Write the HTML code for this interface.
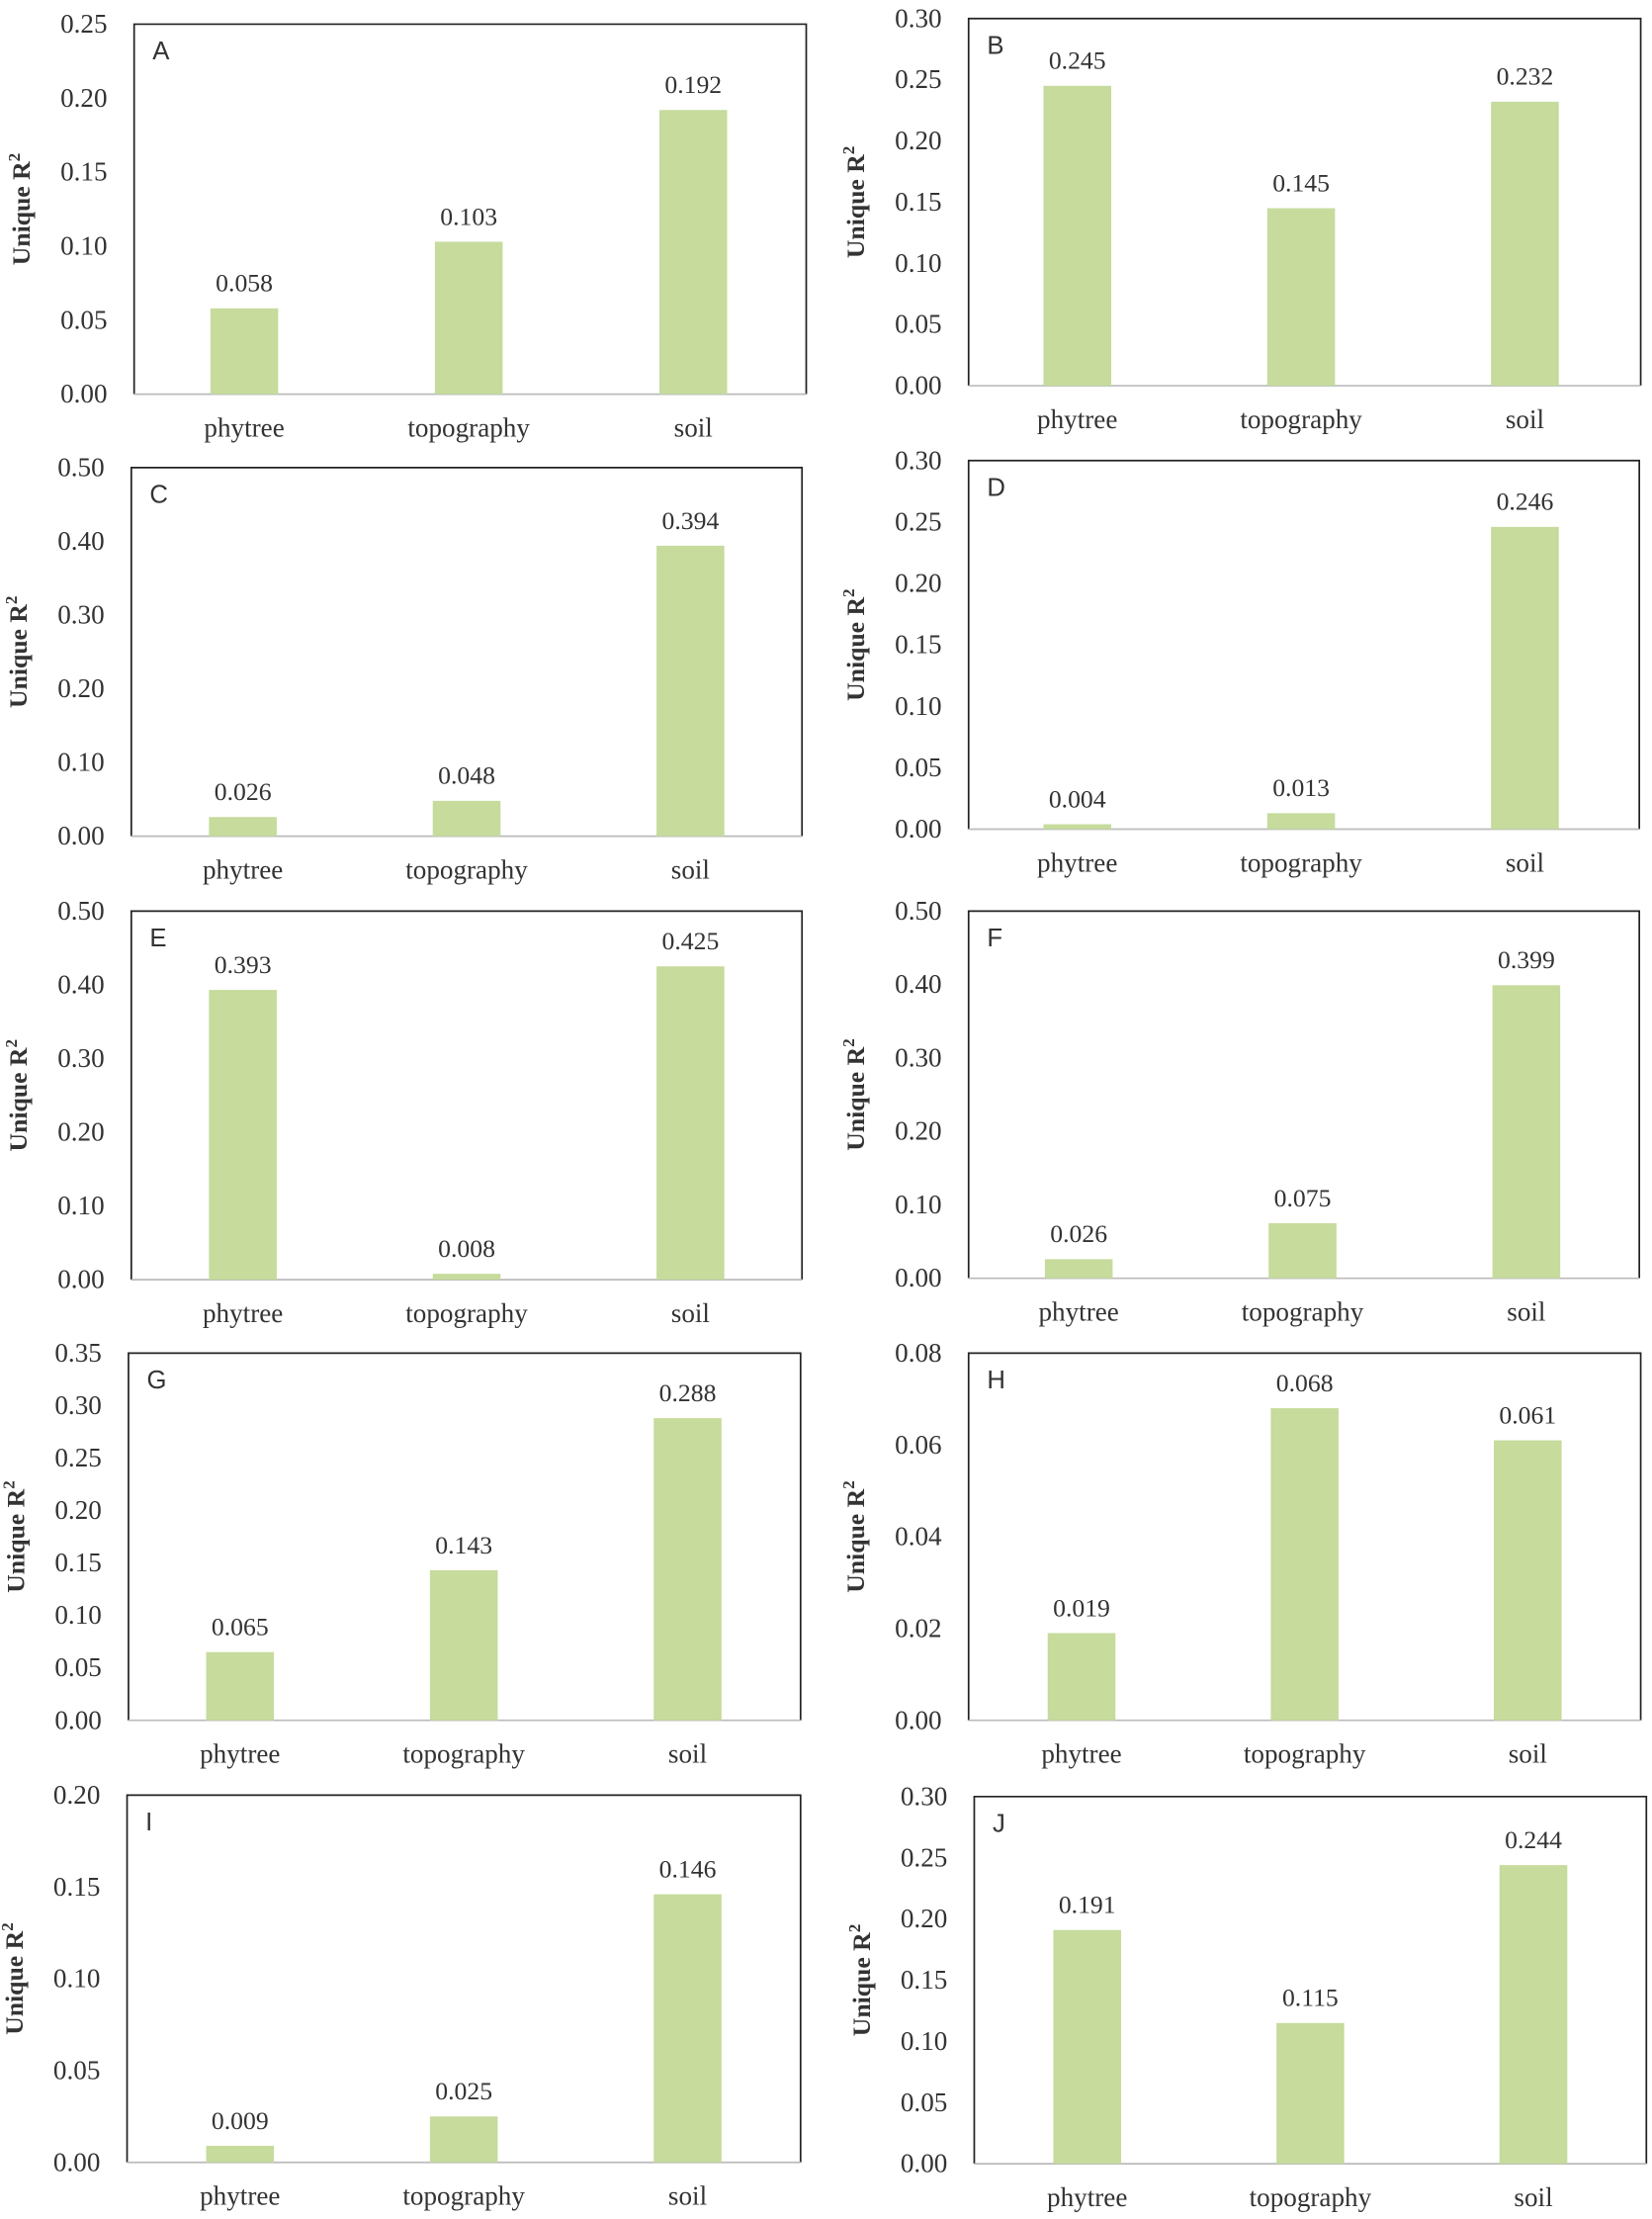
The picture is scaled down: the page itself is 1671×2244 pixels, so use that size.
<!DOCTYPE html>
<html><head><meta charset="utf-8"><style>
html,body{margin:0;padding:0;background:#fff;}
svg{display:block;}
text{font-family:"Liberation Serif",serif;fill:#333;}
</style></head><body>
<svg id="fig" width="1671" height="2244" viewBox="0 0 1170 1571" xmlns="http://www.w3.org/2000/svg"></svg>
<script>
const categories = ["phytree", "topography", "soil"];
const panelLabels = ["A","B","C","D","E","F","G","H","I","J"];
const valuesA = [0.058, 0.103, 0.192];
const valuesB = [0.245, 0.145, 0.232];
const valuesC = [0.026, 0.048, 0.394];
const valuesD = [0.004, 0.013, 0.246];
const valuesE = [0.393, 0.008, 0.425];
const valuesF = [0.026, 0.075, 0.399];
const valuesG = [0.065, 0.143, 0.288];
const valuesH = [0.019, 0.068, 0.061];
const valuesI = [0.009, 0.025, 0.146];
const valuesJ = [0.191, 0.115, 0.244];
const yMaxes = [0.25, 0.30, 0.50, 0.30, 0.50, 0.50, 0.35, 0.08, 0.20, 0.30];
const ySteps = [0.05, 0.05, 0.10, 0.05, 0.10, 0.10, 0.05, 0.02, 0.05, 0.05];
const allValues = [valuesA,valuesB,valuesC,valuesD,valuesE,valuesF,valuesG,valuesH,valuesI,valuesJ];

const layout = [
 {l:95,t:17,r:571,b:279,c0:173,dc:159},
 {l:686,t:13,r:1162,b:273,c0:763,dc:158.5},
 {l:93,t:331,r:568,b:592,c0:172,dc:158.5},
 {l:686,t:326,r:1161,b:587,c0:763,dc:158.5},
 {l:93,t:645,r:568,b:906,c0:172,dc:158.5},
 {l:686,t:645,r:1161,b:905,c0:764,dc:158.5},
 {l:91,t:958,r:567,b:1218,c0:170,dc:158.5},
 {l:686,t:958,r:1162,b:1218,c0:766,dc:158},
 {l:90,t:1271,r:567,b:1531,c0:170,dc:158.5},
 {l:690,t:1272,r:1166,b:1532,c0:770,dc:158}
];
const NS="http://www.w3.org/2000/svg";
const svg=document.getElementById('fig');
function mk(tag,attrs,parent,txt){const e=document.createElementNS(NS,tag);for(const k in attrs)e.setAttribute(k,attrs[k]);if(txt!==undefined)e.textContent=txt;parent.appendChild(e);return e;}

allValues.forEach((vals,i)=>{
  const L=layout[i], ymax=yMaxes[i], step=ySteps[i];
  const g=mk('g',{},svg);
  
  
  const y=v=>L.b-(v/ymax)*(L.b-L.t);
  const x=k=>L.c0+k*L.dc;
  const fr=mk('path',{d:`M${L.l} ${L.b} L${L.l} ${L.t} L${L.r} ${L.t} L${L.r} ${L.b}`,fill:'none',stroke:'#222','stroke-width':1.2},g);
  
  
  const ax=mk('line',{x1:L.l,x2:L.r,y1:L.b,y2:L.b,stroke:'#bbb','stroke-width':1.2},g);
  
  
  const n=Math.round(ymax/step);
  for(let k=0;k<=n;k++){
    const v=k*step;
    const t=mk('text',{x:L.l-19,y:y(v)+6,'text-anchor':'end','font-size':19},g,v.toFixed(2));
    
    
  }
  vals.forEach((v,k)=>{
    const r=mk('rect',{x:x(k)-24,y:y(v),width:48,height:L.b-y(v),fill:'#c6db9c'},g);
    
    
    const lt=mk('text',{x:x(k),y:y(v)-12,'text-anchor':'middle','font-size':18},g,v.toFixed(3));
    
    
    const ct=mk('text',{x:x(k),y:L.b+30,'text-anchor':'middle','font-size':19},g,categories[k]);
    
    
  });
  const pl=mk('text',{x:L.l+13,y:L.t+25,'font-size':18,style:'font-family:"Liberation Sans",sans-serif'},g,panelLabels[i]);
  
  
  const cy=(L.t+L.b)/2, cx=L.l-74;
  const yl=mk('text',{x:cx,y:cy,'text-anchor':'middle','font-size':18,'font-weight':'bold',transform:`rotate(-90 ${cx} ${cy})`},g);
  
  
  yl.appendChild(document.createTextNode('Unique R'));
  mk('tspan',{'font-size':12,dy:-7},yl,'2');
});
</script>
</body></html>
